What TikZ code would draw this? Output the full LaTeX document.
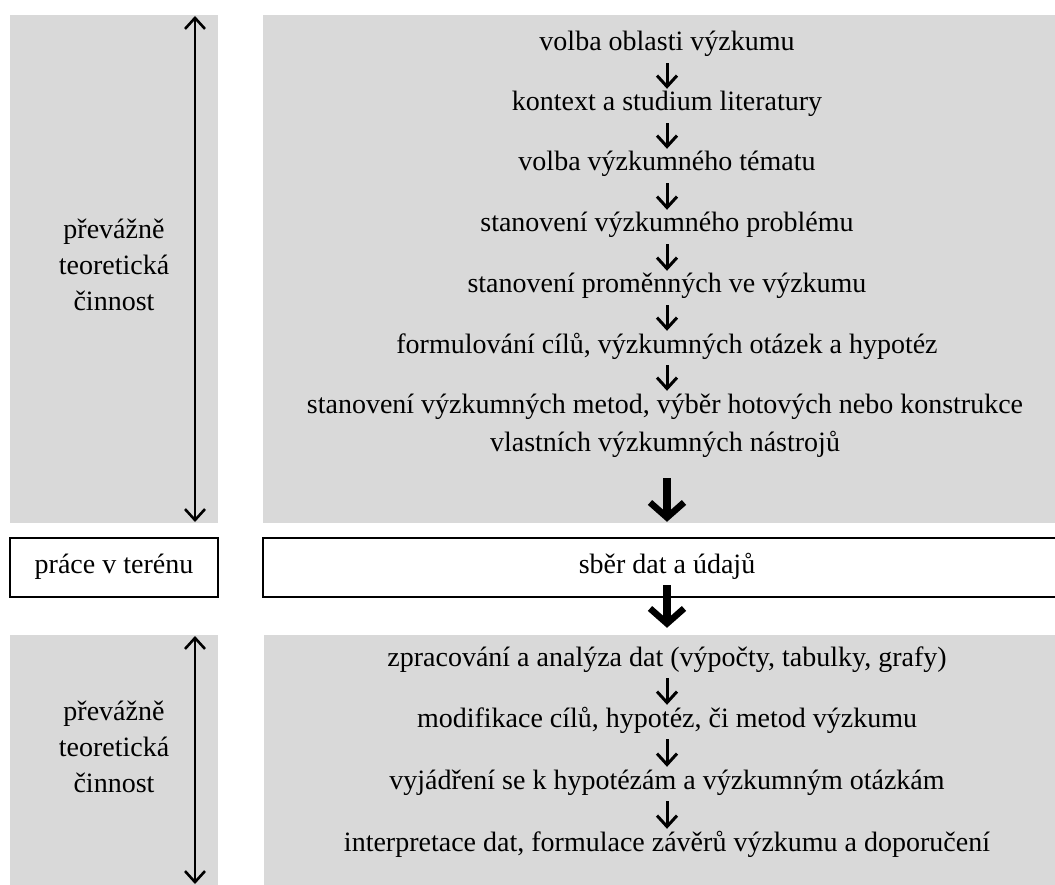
\documentclass[tikz,border=0pt]{standalone}
\usepackage{fontspec}
\setmainfont{Liberation Serif}
\usetikzlibrary{arrows.meta}
\definecolor{boxgray}{RGB}{217,217,217}
\begin{document}
\begin{tikzpicture}[x=1pt,y=-1pt,
  txt/.style={font=\fontsize{28}{38}\selectfont, inner sep=0pt, text height=19pt, text depth=7pt},
  side/.style={font=\fontsize{28}{36}\selectfont, inner sep=0pt, align=center},
  sarrow/.style={line width=3pt, -{Straight Barb[length=11pt,width=20pt,line width=3pt]}, shorten <=5pt, shorten >=3pt},
  tarrow/.style={line width=7.5pt, -{Straight Barb[length=15pt,width=34pt,line width=6.5pt]}},
  darrow/.style={line width=2.6pt, {Straight Barb[length=11pt,width=20pt,line width=2.6pt]}-{Straight Barb[length=11pt,width=20pt,line width=2.6pt]}},
  graybox/.style={fill=boxgray, draw=none},
  whitebox/.style={fill=white, draw=black, line width=1.3pt}
]
\useasboundingbox (0,0) rectangle (1055,885);
% backgrounds
\path[graybox] (10,15) rectangle (218,523);
\path[graybox] (263,15) rectangle (1070,523);
\path[whitebox] (10,538) rectangle (218,597);
\path[whitebox] (263,538) rectangle (1070,597);
\path[graybox] (10,635) rectangle (218,890);
\path[graybox] (264,635) rectangle (1070,890);

% left labels
\node[side] (lt) at (114,265) {převážně\\teoretická\\činnost};
\node[txt] (lm) at (114,567) {práce v terénu};
\node[side] (lb) at (114,747) {převážně\\teoretická\\činnost};
\coordinate (a1) at (195,16);
\coordinate (a2) at (195,522);
\coordinate (b1) at (195,636);
\coordinate (b2) at (195,884);
\draw[darrow] (a1) -- (a2);
\draw[darrow] (b1) -- (b2);

% top chain
\node[txt] (n1) at (667,45) {volba oblasti výzkumu};
\node[txt] (n2) at (667,105) {kontext a studium literatury};
\node[txt] (n3) at (667,165) {volba výzkumného tématu};
\node[txt] (n4) at (667,226) {stanovení výzkumného problému};
\node[txt] (n5) at (667,287) {stanovení proměnných ve výzkumu};
\node[txt] (n6) at (667,347) {formulování cílů, výzkumných otázek a hypotéz};
\node[txt] (n7) at (665,407) {stanovení výzkumných metod, výběr hotových nebo konstrukce};
\node[txt] (n7b) at (665,445) {vlastních výzkumných nástrojů};
\draw[sarrow] (n1) -- (n2);
\draw[sarrow] (n2) -- (n3);
\draw[sarrow] (n3) -- (n4);
\draw[sarrow] (n4) -- (n5);
\draw[sarrow] (n5) -- (n6);
\draw[sarrow] (n6.south -| 667,0) -- (n7.north -| 667,0);

% middle
\node[txt] (m) at (667,567) {sběr dat a údajů};
\draw[tarrow, shorten <=20pt, shorten >=32pt] (n7b.south -| 667,0) -- (m.north);

% bottom chain
\node[txt] (p1) at (667,660) {zpracování a analýza dat (výpočty, tabulky, grafy)};
\node[txt] (p2) at (667,721) {modifikace cílů, hypotéz, či metod výzkumu};
\node[txt] (p3) at (667,783) {vyjádření se k hypotézám a výzkumným otázkám};
\node[txt] (p4) at (667,845) {interpretace dat, formulace závěrů výzkumu a doporučení};
\draw[tarrow, shorten <=5pt, shorten >=19pt] (m) -- (p1);
\draw[sarrow] (p1) -- (p2);
\draw[sarrow] (p2) -- (p3);
\draw[sarrow] (p3) -- (p4);
\end{tikzpicture}
\end{document}
